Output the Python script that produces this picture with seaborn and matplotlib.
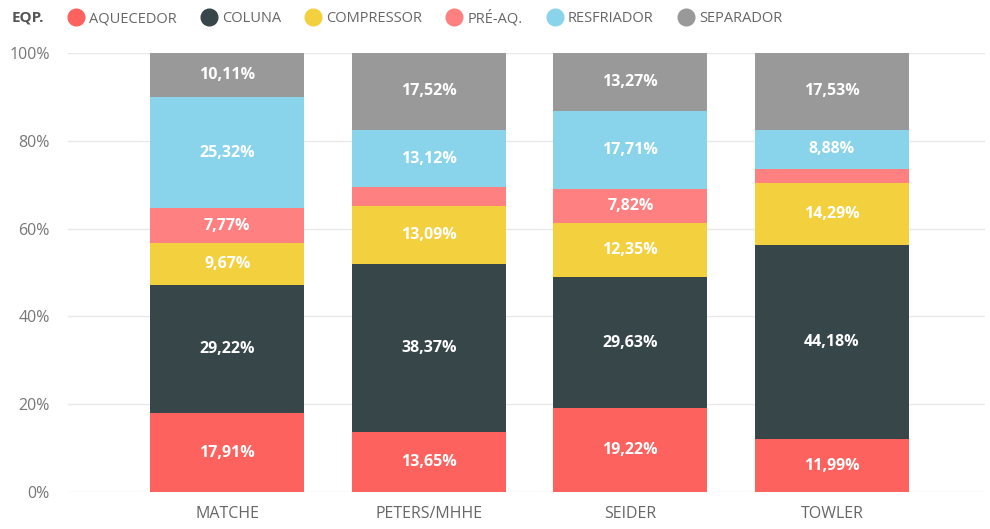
import matplotlib.pyplot as plt
import numpy as np
import pandas as pd
import seaborn as sns
from matplotlib.lines import Line2D

# Data (percent share per equipment type)
sources = ["MATCHE", "PETERS/MHHE", "SEIDER", "TOWLER"]
aquecedor = [17.91, 13.65, 19.22, 11.99]
coluna = [29.22, 38.37, 29.63, 44.18]
compressor = [9.67, 13.09, 12.35, 14.29]
pre_aq = [7.77, 4.25, 7.82, 3.13]
resfriador = [25.32, 13.12, 17.71, 8.88]
separador = [10.11, 17.52, 13.27, 17.53]

series = {
    "AQUECEDOR": aquecedor,
    "COLUNA": coluna,
    "COMPRESSOR": compressor,
    "PRÉ-AQ.": pre_aq,
    "RESFRIADOR": resfriador,
    "SEPARADOR": separador,
}
colors = ["#FD625E", "#374649", "#F3D03E", "#FE8080", "#8AD4EB", "#999999"]

sns.set_style("white")
plt.rcParams["font.family"] = ["Open Sans", "DejaVu Sans"]

fig = plt.figure(figsize=(9.9, 5.29), dpi=100)
ax = fig.add_axes([0.0687, 0.070, 0.9263, 0.830])

bottom = np.zeros(len(sources))
for (name, vals), col in zip(series.items(), colors):
    df = pd.DataFrame({"src": sources, "val": vals})
    sns.barplot(data=df, x="src", y="val", color=col, bottom=bottom,
                width=0.764, ax=ax, saturation=1, linewidth=0, zorder=3)
    for i, v in enumerate(vals):
        if v >= 5:
            ax.text(i, bottom[i] + v / 2, f"{v:.2f}%".replace(".", ","),
                    ha="center", va="center", color="white",
                    fontsize=11.5, fontweight="bold", zorder=4)
    bottom = bottom + np.array(vals)

ax.set_xlim(-0.79, 3.76)
ax.set_ylim(0, 100)
ax.set_yticks([0, 20, 40, 60, 80, 100])
ax.set_yticklabels([f"{t}%" for t in [0, 20, 40, 60, 80, 100]])
ax.grid(axis="y", color="#e8e8e8", linewidth=1, zorder=0)
ax.set_xlabel("")
ax.set_ylabel("")
for s in ax.spines.values():
    s.set_visible(False)
ax.tick_params(axis="y", length=0, labelsize=11.5, labelcolor="#777777", pad=13)
ax.tick_params(axis="x", length=0, labelsize=11.5, labelcolor="#666666", pad=10)

handles = [Line2D([], [], marker="o", linestyle="", markersize=12,
                  markerfacecolor=c, markeredgecolor=c) for c in colors]
fig.text(0.012, 0.966, "EQP.", fontsize=11, fontweight="bold",
         color="#555555", va="center")
fig.legend(handles, list(series.keys()), loc="center left",
           bbox_to_anchor=(0.062, 0.966), ncol=6, frameon=False,
           handletextpad=-0.1, columnspacing=1.2, fontsize=10.5,
           labelcolor="#666666", borderaxespad=0, borderpad=0)

fig.savefig("out.png", dpi=100)
